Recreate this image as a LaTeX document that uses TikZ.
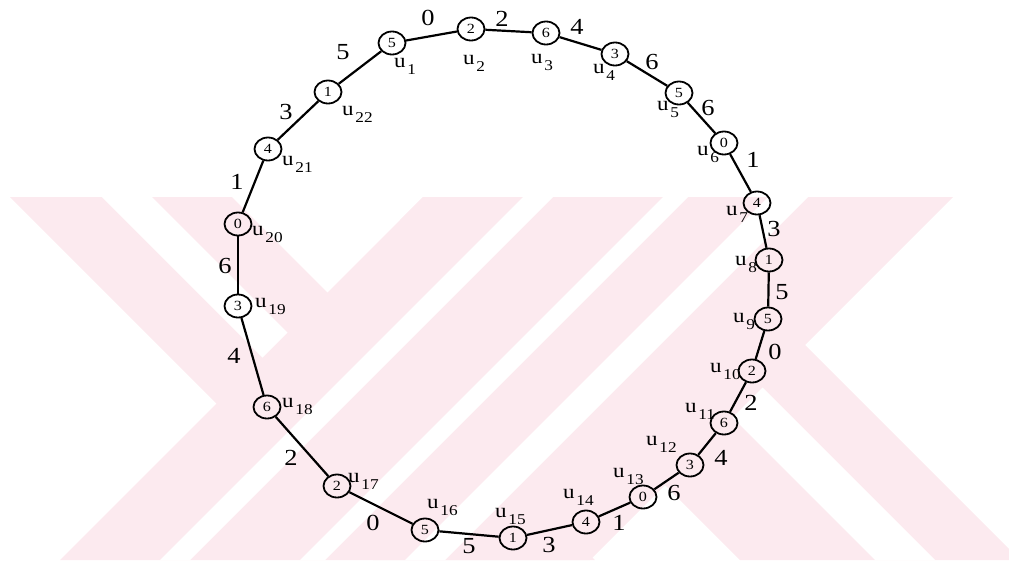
\documentclass[tikz,border=0pt]{standalone}
\usepackage{fontspec}
\setmainfont{Liberation Serif}
\usetikzlibrary{shapes.geometric}
\definecolor{wm}{RGB}{252,234,239}
\tikzset{
  vtx/.style={ellipse, draw, line width=1.8pt, minimum width=27pt, minimum height=23pt, inner sep=0pt, font=\fontsize{14}{14}\selectfont},
  link/.style={line width=2.2pt},
  elab/.style={inner sep=0pt, font=\fontsize{23}{23}\selectfont},
  vlab/.style={anchor=base west, inner sep=0pt, font=\fontsize{20}{20}\selectfont},
  wmfill/.style={fill=wm, draw=none},
  wmgap/.style={fill=white, draw=none}
}
\newcommand{\wdig}[1]{\scalebox{1.15}[1]{#1}}
\newcommand{\usub}[1]{\scalebox{1.15}[1]{u\kern1.5pt\raisebox{-7pt}{\fontsize{15}{15}\selectfont #1}}}
\begin{document}
\begin{tikzpicture}[x=1pt,y=-1pt]
\useasboundingbox (0,0) rectangle (1009,563);
% watermark
\begin{scope}
\clip (0,197) rectangle (1009,560);
% upper-left stroke
\fill[wmfill] (10,197) -- (232,197) -- (595,560) -- (373,560) -- cycle;
% lower-right stroke
\fill[wmfill] (400,220) -- (423,197) -- (657,197) -- (1020,560) -- (740,560) -- cycle;
% broad slanted body
\fill[wmfill] (423,197) -- (953,197) -- (590,560) -- (60,560) -- cycle;
% white lines
\fill[wmgap] (102,197) -- (152,197) -- (287.5,332.5) -- (262.5,357.5) -- cycle;
\fill[wmgap] (732.5,417.5) -- (762.5,387.5) -- (935,560) -- (875,560) -- cycle;
\fill[wmgap] (523,197) -- (553,197) -- (190,560) -- (160,560) -- cycle;
\fill[wmgap] (663,197) -- (688,197) -- (325,560) -- (300,560) -- cycle;
\fill[wmgap] (768,197) -- (808,197) -- (445,560) -- (405,560) -- cycle;
\end{scope}
% vertices
\node[vtx] (u1) at (392,43) {\wdig{5}};
\node[vtx] (u2) at (471,29) {\wdig{2}};
\node[vtx] (u3) at (546,33) {\wdig{6}};
\node[vtx] (u4) at (615,54) {\wdig{3}};
\node[vtx] (u5) at (679,93) {\wdig{5}};
\node[vtx] (u6) at (724,143) {\wdig{0}};
\node[vtx] (u7) at (757,203) {\wdig{4}};
\node[vtx] (u8) at (769,260) {\wdig{1}};
\node[vtx] (u9) at (768,319) {\wdig{5}};
\node[vtx] (u10) at (752,371) {\wdig{2}};
\node[vtx] (u11) at (724,423) {\wdig{6}};
\node[vtx] (u12) at (690,465) {\wdig{3}};
\node[vtx] (u13) at (643,497) {\wdig{0}};
\node[vtx] (u14) at (586,522) {\wdig{4}};
\node[vtx] (u15) at (513,538) {\wdig{1}};
\node[vtx] (u16) at (425,530) {\wdig{5}};
\node[vtx] (u17) at (337,486) {\wdig{2}};
\node[vtx] (u18) at (267,407) {\wdig{6}};
\node[vtx] (u19) at (238,306) {\wdig{3}};
\node[vtx] (u20) at (238,224) {\wdig{0}};
\node[vtx] (u21) at (268,149) {\wdig{4}};
\node[vtx] (u22) at (328,92) {\wdig{1}};
% edges
\draw[link] (u1) -- (u2);
\draw[link] (u2) -- (u3);
\draw[link] (u3) -- (u4);
\draw[link] (u4) -- (u5);
\draw[link] (u5) -- (u6);
\draw[link] (u6) -- (u7);
\draw[link] (u7) -- (u8);
\draw[link] (u8) -- (u9);
\draw[link] (u9) -- (u10);
\draw[link] (u10) -- (u11);
\draw[link] (u11) -- (u12);
\draw[link] (u12) -- (u13);
\draw[link] (u13) -- (u14);
\draw[link] (u14) -- (u15);
\draw[link] (u15) -- (u16);
\draw[link] (u16) -- (u17);
\draw[link] (u17) -- (u18);
\draw[link] (u18) -- (u19);
\draw[link] (u19) -- (u20);
\draw[link] (u20) -- (u21);
\draw[link] (u21) -- (u22);
\draw[link] (u22) -- (u1);
% edge labels
\node[elab] (e1) at (428,18) {\wdig{0}};
\node[elab] (e2) at (502,19) {\wdig{2}};
\node[elab] (e3) at (577,27) {\wdig{4}};
\node[elab] (e4) at (652,62) {\wdig{6}};
\node[elab] (e5) at (708,108) {\wdig{6}};
\node[elab] (e6) at (753,160) {\wdig{1}};
\node[elab] (e7) at (774,229) {\wdig{3}};
\node[elab] (e8) at (782,292) {\wdig{5}};
\node[elab] (e9) at (775,352) {\wdig{0}};
\node[elab] (e10) at (751,403) {\wdig{2}};
\node[elab] (e11) at (721,458) {\wdig{4}};
\node[elab] (e12) at (674,493) {\wdig{6}};
\node[elab] (e13) at (619,523) {\wdig{1}};
\node[elab] (e14) at (549,545) {\wdig{3}};
\node[elab] (e15) at (469,546) {\wdig{5}};
\node[elab] (e16) at (373,523) {\wdig{0}};
\node[elab] (e17) at (291,458) {\wdig{2}};
\node[elab] (e18) at (234,356) {\wdig{4}};
\node[elab] (e19) at (225,266) {\wdig{6}};
\node[elab] (e20) at (237,182) {\wdig{1}};
\node[elab] (e21) at (286,112) {\wdig{3}};
\node[elab] (e22) at (343,52) {\wdig{5}};
% vertex labels
\node[vlab] (l1) at (394,67) {\usub{1}};
\node[vlab] (l2) at (463,64) {\usub{2}};
\node[vlab] (l3) at (531,63) {\usub{3}};
\node[vlab] (l4) at (593,73) {\usub{4}};
\node[vlab] (l5) at (657,110) {\usub{5}};
\node[vlab] (l6) at (697,155) {\usub{6}};
\node[vlab] (l7) at (726,215) {\usub{7}};
\node[vlab] (l8) at (735,265) {\usub{8}};
\node[vlab] (l9) at (733,322) {\usub{9}};
\node[vlab] (l10) at (710,372) {\usub{10}};
\node[vlab] (l11) at (685,412) {\usub{11}};
\node[vlab] (l12) at (646,445) {\usub{12}};
\node[vlab] (l13) at (613,477) {\usub{13}};
\node[vlab] (l14) at (563,498) {\usub{14}};
\node[vlab] (l15) at (495,517) {\usub{15}};
\node[vlab] (l16) at (427,508) {\usub{16}};
\node[vlab] (l17) at (348,482) {\usub{17}};
\node[vlab] (l18) at (282,407) {\usub{18}};
\node[vlab] (l19) at (255,307) {\usub{19}};
\node[vlab] (l20) at (252,235) {\usub{20}};
\node[vlab] (l21) at (282,165) {\usub{21}};
\node[vlab] (l22) at (342,115) {\usub{22}};
\end{tikzpicture}
\end{document}
